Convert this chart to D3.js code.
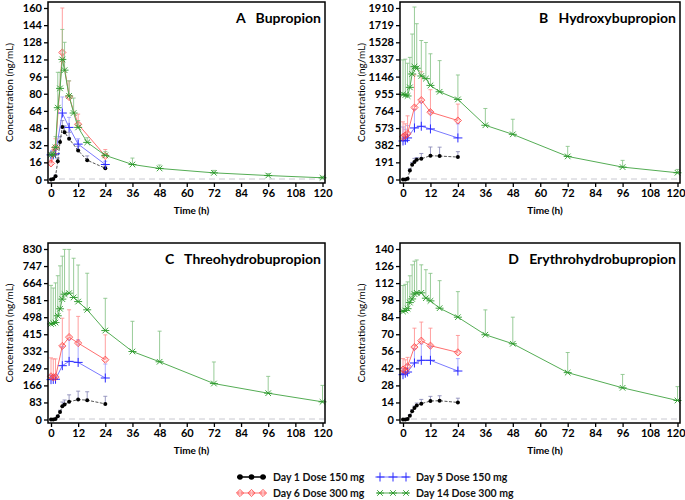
<!DOCTYPE html>
<html><head><meta charset="utf-8">
<script src="https://cdn.jsdelivr.net/npm/d3@7"></script>
<style>
html,body{margin:0;padding:0;background:#fff;}
svg{display:block;font-family:Lato,"Open Sans",sans-serif;}
</style></head>
<body><svg id="chart" width="685" height="500"></svg>
<script>
// ---------- DATA ----------
const timesDay1  = [0,1,2,3,4,5,6,8,12,16,24];
const timesDay5  = [0,1,2,5,8,12,24];
const timesDay6  = [0,1,2,5,8,12,24];
const timesDay14 = [0,1,2,3,4,5,6,8,10,12,16,24,36,48,72,96,120];
const xTicks = [0,12,24,36,48,60,72,84,96,108,120];

// Panel A: Bupropion
const bupTicks = [0,16,32,48,64,80,96,112,128,144,160];
const bupDay1 = [0,0.5,3,17,35,49,44,38,27,18,10.5];
const bupDay1Err = [0,1,4,20,40,55,50,44,31,22,12.5];
const bupDay5 = [23,23,24,62,48.6,33,14];
const bupDay5Err = [25,26,30,77,58,38,17];
const bupDay6 = [15,24,30,118.5,77,51.5,22];
const bupDay6Err = [18,28,38,160,92,61,28];
const bupDay14 = [23,23,30,67,85,112,102,78,62,48.6,34.6,22.5,14,10.3,6.2,3.7,1.6];
const bupDay14Err = [25,26,40,100,100,140,128,92,76,55,39,26,20,13.5,8.5,5.5,3];

// Panel B: Hydroxybupropion
const hydTicks = [0,191,382,573,764,955,1146,1337,1528,1719,1910];
const hydDay1 = [0,0,8,100,164,194,220,231,265,261,250];
const hydDay1Err = [0,0,12,120,190,235,245,290,362,360,310];
const hydDay5 = [429,436,463,574,593,563,463];
const hydDay5Err = [585,560,600,780,860,760,620];
const hydDay6 = [474,490,511,802,884,750,657];
const hydDay6Err = [642,620,709,1164,1200,1000,840];
const hydDay14 = [949,940,930,1026,1175,1257,1239,1153,1123,1048,977,892,604,503,257,138,75];
const hydDay14Err = [1332,1340,1295,1360,1620,1921,1735,1548,1526,1400,1324,1164,791,671,369,213,112];

// Panel C: Threohydrobupropion
const threoTicks = [0,83,166,249,332,415,498,581,664,747,830];
const threoDay1 = [0,0,3,16,36,65,73,86,97,94,76];
const threoDay1Err = [0,0,5,20,45,85,95,120,138,135,113];
const threoDay5 = [194,195,196,262,283,278,202];
const threoDay5Err = [215,215,220,355,388,388,270];
const threoDay6 = [210,205,207,358,401,372,291];
const threoDay6Err = [300,295,295,493,534,502,412];
const threoDay14 = [465,468,472,505,539,586,610,615,594,574,534,433,331,281,175,128,86];
const threoDay14Err = [653,640,665,700,748,795,828,828,785,752,712,590,478,430,280,210,166];

// Panel D: Erythrohydrobupropion
const eryTicks = [0,14,28,42,56,70,84,98,112,126,140];
const eryDay1 = [0,0,0.5,3,6.8,9.5,11.5,13,15.2,15.4,14];
const eryDay1Err = [0,0,1,4,8,11,13.5,16.5,19,19.5,17.5];
const eryDay5 = [36.8,38,39,46.4,48.6,48.6,39.8];
const eryDay5Err = [42,42,45,58,62,60,50];
const eryDay6 = [41,40,43.6,59.5,64.7,60.6,55.1];
const eryDay6Err = [50,49,51,75,80,75,69];
const eryDay14 = [88.7,89.5,91,96,99,103,104,104,99.6,97.4,91.4,84,69.6,62.2,38.5,26,15.6];
const eryDay14Err = [110,111,113,118,127,130,131,127,123,120,114,105,90,84,55,37,27];

const seriesNames = ["Day 1 Dose 150 mg","Day 5 Dose 150 mg","Day 6 Dose 300 mg","Day 14 Dose 300 mg"];

// ---------- STYLE ----------
const styles = [
  {line:"#555", err:"#8a8ab8", marker:"dot", color:"#000"},
  {line:"#7a7aff", err:"#a0a0ff", marker:"plus", color:"#2a2aff"},
  {line:"#ff7070", err:"#ff9090", marker:"diamond", color:"#ff4040"},
  {line:"#55ad55", err:"#88c488", marker:"star", color:"#2a9a2a"}
];

const panels = [
  {key:"A", name:"Bupropion", ticks:bupTicks, box:[48,2,325,183],
   data:[[timesDay1,bupDay1,bupDay1Err],[timesDay5,bupDay5,bupDay5Err],[timesDay6,bupDay6,bupDay6Err],[timesDay14,bupDay14,bupDay14Err]]},
  {key:"B", name:"Hydroxybupropion", ticks:hydTicks, box:[400,2,680,183],
   data:[[timesDay1,hydDay1,hydDay1Err],[timesDay5,hydDay5,hydDay5Err],[timesDay6,hydDay6,hydDay6Err],[timesDay14,hydDay14,hydDay14Err]]},
  {key:"C", name:"Threohydrobupropion", ticks:threoTicks, box:[48,243,325,423],
   data:[[timesDay1,threoDay1,threoDay1Err],[timesDay5,threoDay5,threoDay5Err],[timesDay6,threoDay6,threoDay6Err],[timesDay14,threoDay14,threoDay14Err]]},
  {key:"D", name:"Erythrohydrobupropion", ticks:eryTicks, box:[400,243,680,423],
   data:[[timesDay1,eryDay1,eryDay1Err],[timesDay5,eryDay5,eryDay5Err],[timesDay6,eryDay6,eryDay6Err],[timesDay14,eryDay14,eryDay14Err]]}
];

const svg = d3.select("#chart");

function drawMarker(g, type, x, y, color) {
  if (type === "dot") {
    g.append("circle").attr("cx",x).attr("cy",y).attr("r",2).attr("fill",color);
  } else if (type === "plus") {
    const a = 4.5;
    g.append("path").attr("d",`M${x-a},${y}H${x+a}M${x},${y-a}V${y+a}`)
      .attr("stroke",color).attr("stroke-width",1).attr("fill","none");
  } else if (type === "diamond") {
    const a = 3.6;
    g.append("path").attr("d",`M${x},${y-a}L${x+a},${y}L${x},${y+a}L${x-a},${y}Z`)
      .attr("stroke",color).attr("stroke-width",0.8).attr("fill","none");
    g.append("circle").attr("cx",x).attr("cy",y).attr("r",1.9)
      .attr("stroke",color).attr("stroke-width",0.6).attr("fill","none").attr("opacity",0.7);
  } else if (type === "star") {
    const a = 2.8, h = 4;
    g.append("path").attr("d",`M${x-a},${y-a}L${x+a},${y+a}M${x-a},${y+a}L${x+a},${y-a}M${x-h},${y}H${x+h}`)
      .attr("stroke",color).attr("stroke-width",0.9).attr("fill","none");
  }
}

panels.forEach(p => {
  const [x0,y0,x1,y1] = p.box;
  const yMax = p.ticks[p.ticks.length-1];
  const x = d3.scaleLinear().domain([0,120]).range([x0+3, x1-2.5]);
  const y = d3.scaleLinear().domain([0,yMax]).range([y1-3.5, y0+6]);
  const g = svg.append("g");

  g.append("line").attr("x1",x0+1).attr("x2",x1-1).attr("y1",y(0)-0.5).attr("y2",y(0)-0.5)
    .attr("stroke","#c8c8d0").attr("stroke-width",1).attr("stroke-dasharray","6,4");

  p.data.forEach((d,i) => {
    const st = styles[i];
    const [ts, vs, es] = d;
    const pts = ts.map((t,k)=>({t, v:vs[k], e:es[k]}));
    const sg = g.append("g");
    pts.forEach(pt => {
      if (pt.e > pt.v) {
        sg.append("line").attr("x1",x(pt.t)).attr("x2",x(pt.t)).attr("y1",y(pt.v)).attr("y2",y(pt.e))
          .attr("stroke",st.err).attr("stroke-width",1).attr("opacity",0.85);
        sg.append("line").attr("x1",x(pt.t)-2).attr("x2",x(pt.t)+2).attr("y1",y(pt.e)).attr("y2",y(pt.e))
          .attr("stroke",st.err).attr("stroke-width",1).attr("opacity",0.85);
      }
    });
    sg.append("path").datum(pts)
      .attr("d", d3.line().x(pt=>x(pt.t)).y(pt=>y(pt.v)))
      .attr("fill","none").attr("stroke",st.line).attr("stroke-width",1)
      .attr("stroke-dasharray", i===0 ? "3,1.5" : null);
    pts.forEach(pt => drawMarker(sg, st.marker, x(pt.t), y(pt.v), st.color));
  });

  g.append("rect").attr("x",x0).attr("y",y0).attr("width",x1-x0).attr("height",y1-y0)
    .attr("fill","none").attr("stroke","#000").attr("stroke-width",1.5);

  const ya = g.append("g").attr("transform",`translate(${x0},0)`)
    .call(d3.axisLeft(y).tickValues(p.ticks).tickFormat(d3.format("d")).tickSize(4).tickSizeOuter(0).tickPadding(2));
  const xa = g.append("g").attr("transform",`translate(0,${y1})`)
    .call(d3.axisBottom(x).tickValues(xTicks).tickFormat(d3.format("d")).tickSize(4).tickSizeOuter(0).tickPadding(2));
  [ya,xa].forEach(a => {
    a.select(".domain").remove();
    a.selectAll(".tick line").attr("stroke","#000").attr("stroke-width",1.3);
    a.selectAll(".tick text").attr("fill","#000").attr("font-size","11px").attr("font-weight","bold")
      .attr("font-family","Lato, 'Open Sans', sans-serif");
  });
  xa.selectAll(".tick text").filter(d => d === 120).attr("dx", x1 > 600 ? "-2" : "0");

  g.append("text").attr("x",(x0+x1)/2 + 5).attr("y",y1+31).attr("text-anchor","middle")
    .attr("font-size","10px").attr("font-weight","bold").text("Time (h)");
  g.append("text").attr("transform",`translate(${x0-35},${(y0+y1)/2}) rotate(-90)`)
    .attr("text-anchor","middle").attr("font-size","10px").text("Concentration (ng/mL)");

  g.append("text").attr("x",x1-4).attr("y",y0+21).attr("text-anchor","end")
    .attr("font-size","14px").attr("font-weight","bold")
    .text(p.key + "\u00a0\u00a0 " + p.name);
});

// ---------- LEGEND ----------
const legendPos = [[240,477],[380,477],[240,493],[380,493]];
const legendStep = [11.5,13,11.5,13];
legendPos.forEach((pos,i) => {
  const st = styles[i];
  const lg = svg.append("g");
  const [lx,ly] = pos;
  const s = legendStep[i];
  lg.append("line").attr("x1",lx-3).attr("x2",lx+2*s+3).attr("y1",ly).attr("y2",ly)
    .attr("stroke", i===0 ? "#000" : st.line).attr("stroke-width", i===0 ? 1.5 : 1);
  [0,s,2*s].forEach(dx => {
    if (i===0) lg.append("circle").attr("cx",lx+dx).attr("cy",ly).attr("r",2.8).attr("fill","#000");
    else drawMarker(lg, st.marker, lx+dx, ly, st.color);
  });
  lg.append("text").attr("x", lx+2*s+10).attr("y", ly+4).attr("font-size","10.5px").attr("font-weight","bold")
    .attr("fill","#111").text(seriesNames[i]);
});
</script></body></html>
